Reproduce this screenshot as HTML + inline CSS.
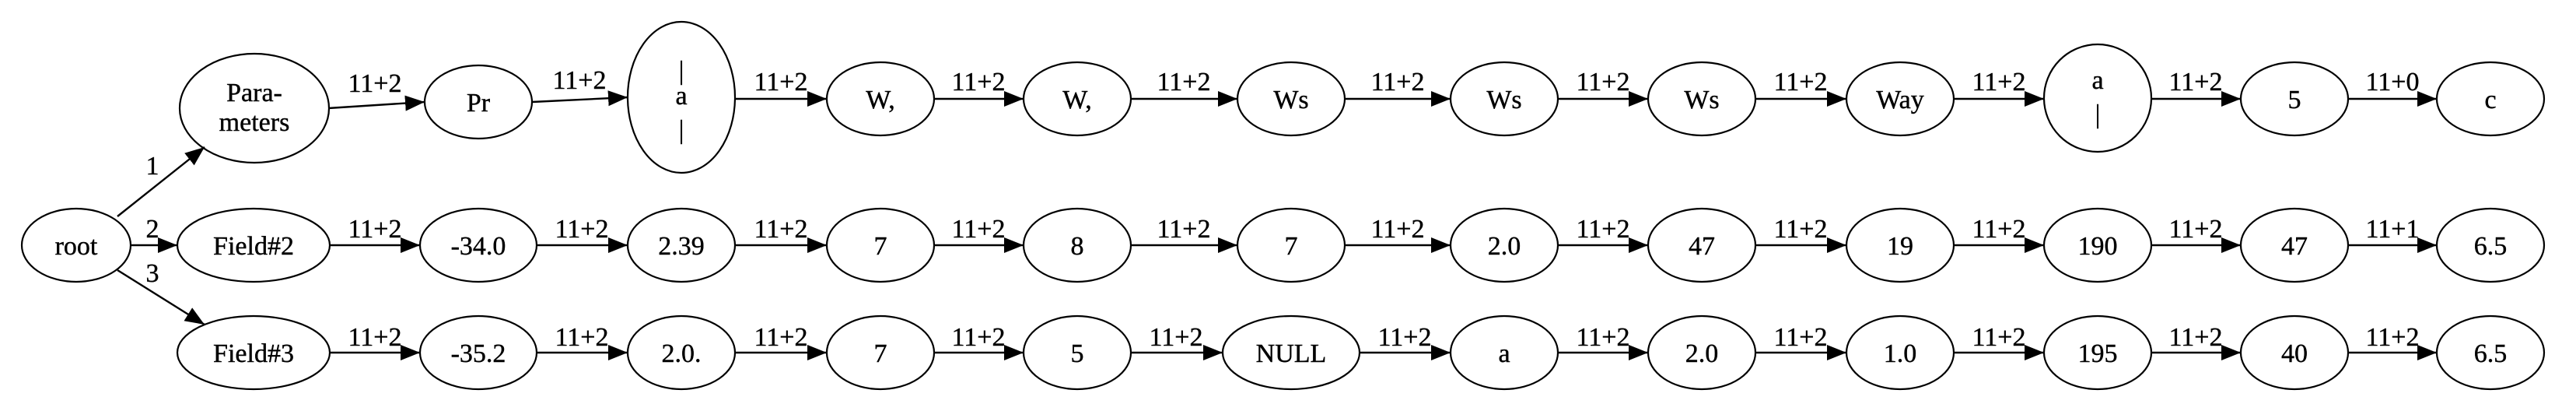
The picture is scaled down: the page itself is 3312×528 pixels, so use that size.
<!DOCTYPE html>
<html><head><meta charset="utf-8"><style>
html,body{margin:0;padding:0;background:#fff;}
svg{display:block;}
svg text{font-family:"Liberation Serif","Times New Roman","DejaVu Serif",serif;font-size:34px;fill:#000;text-anchor:middle;stroke:#000;stroke-width:0.4;}
ellipse{fill:none;stroke:#000;stroke-width:2.2;}
line{stroke:#000;stroke-width:2.4;}
</style></head><body>
<svg width="3312" height="528" viewBox="0 0 3312 528" xmlns="http://www.w3.org/2000/svg" font-family="Liberation Serif, serif">
<defs>
<marker id="a" markerUnits="userSpaceOnUse" markerWidth="26" markerHeight="22" refX="25" refY="10" orient="auto">
<path d="M0,0 L25,10 L0,20 Z" fill="#000"/>
</marker>
</defs>
<ellipse cx="98" cy="315" rx="70" ry="47"/><text x="98" y="327">root</text>
<line x1="151" y1="278" x2="263" y2="189" marker-end="url(#a)"/><text x="196" y="224">1</text>
<line x1="168" y1="315" x2="228" y2="315" marker-end="url(#a)"/><text x="196" y="305">2</text>
<line x1="151" y1="347" x2="263" y2="417" marker-end="url(#a)"/><text x="196" y="362">3</text>

<ellipse cx="327" cy="139" rx="96" ry="70"/><text x="327" y="130">Para-</text><text x="327" y="168">meters</text>
<ellipse cx="615" cy="131" rx="69" ry="47"/><text x="615" y="143">Pr</text>
<ellipse cx="876" cy="125" rx="69" ry="97"/><text x="876" y="102">|</text><text x="876" y="134">a</text><text x="876" y="178">|</text>
<ellipse cx="1132" cy="127" rx="69" ry="47"/><text x="1132" y="139">W,</text>
<ellipse cx="1385" cy="127" rx="69" ry="47"/><text x="1385" y="139">W,</text>
<ellipse cx="1660" cy="127" rx="69" ry="47"/><text x="1660" y="139">Ws</text>
<ellipse cx="1934" cy="127" rx="69" ry="47"/><text x="1934" y="139">Ws</text>
<ellipse cx="2188" cy="127" rx="69" ry="47"/><text x="2188" y="139">Ws</text>
<ellipse cx="2443" cy="127" rx="69" ry="47"/><text x="2443" y="139">Way</text>
<ellipse cx="2697" cy="126" rx="69" ry="69"/><text x="2697" y="114">a</text><text x="2697" y="158">|</text>
<ellipse cx="2950" cy="127" rx="69" ry="47"/><text x="2950" y="139">5</text>
<ellipse cx="3202" cy="127" rx="69" ry="47"/><text x="3202" y="139">c</text>

<line x1="422" y1="139" x2="546" y2="131" marker-end="url(#a)"/><text x="482" y="118">11+2</text>
<line x1="684" y1="131" x2="807" y2="125" marker-end="url(#a)"/><text x="745" y="114">11+2</text>
<line x1="945" y1="127" x2="1063" y2="127" marker-end="url(#a)"/><text x="1004" y="116">11+2</text>
<line x1="1201" y1="127" x2="1316" y2="127" marker-end="url(#a)"/><text x="1258" y="116">11+2</text>
<line x1="1454" y1="127" x2="1591" y2="127" marker-end="url(#a)"/><text x="1522" y="116">11+2</text>
<line x1="1729" y1="127" x2="1865" y2="127" marker-end="url(#a)"/><text x="1797" y="116">11+2</text>
<line x1="2003" y1="127" x2="2119" y2="127" marker-end="url(#a)"/><text x="2061" y="116">11+2</text>
<line x1="2257" y1="127" x2="2374" y2="127" marker-end="url(#a)"/><text x="2315" y="116">11+2</text>
<line x1="2512" y1="127" x2="2628" y2="127" marker-end="url(#a)"/><text x="2570" y="116">11+2</text>
<line x1="2766" y1="127" x2="2881" y2="127" marker-end="url(#a)"/><text x="2823" y="116">11+2</text>
<line x1="3019" y1="127" x2="3133" y2="127" marker-end="url(#a)"/><text x="3076" y="116">11+0</text>

<ellipse cx="326" cy="315" rx="98" ry="47"/><text x="326" y="327">Field#2</text>
<ellipse cx="615" cy="315" rx="75" ry="47"/><text x="615" y="327">-34.0</text>
<ellipse cx="876" cy="315" rx="69" ry="47"/><text x="876" y="327">2.39</text>
<ellipse cx="1132" cy="315" rx="69" ry="47"/><text x="1132" y="327">7</text>
<ellipse cx="1385" cy="315" rx="69" ry="47"/><text x="1385" y="327">8</text>
<ellipse cx="1660" cy="315" rx="69" ry="47"/><text x="1660" y="327">7</text>
<ellipse cx="1934" cy="315" rx="69" ry="47"/><text x="1934" y="327">2.0</text>
<ellipse cx="2188" cy="315" rx="69" ry="47"/><text x="2188" y="327">47</text>
<ellipse cx="2443" cy="315" rx="69" ry="47"/><text x="2443" y="327">19</text>
<ellipse cx="2697" cy="315" rx="69" ry="47"/><text x="2697" y="327">190</text>
<ellipse cx="2950" cy="315" rx="69" ry="47"/><text x="2950" y="327">47</text>
<ellipse cx="3202" cy="315" rx="69" ry="47"/><text x="3202" y="327">6.5</text>

<line x1="424" y1="315" x2="540" y2="315" marker-end="url(#a)"/><text x="482" y="305">11+2</text>
<line x1="690" y1="315" x2="807" y2="315" marker-end="url(#a)"/><text x="748" y="305">11+2</text>
<line x1="945" y1="315" x2="1063" y2="315" marker-end="url(#a)"/><text x="1004" y="305">11+2</text>
<line x1="1201" y1="315" x2="1316" y2="315" marker-end="url(#a)"/><text x="1258" y="305">11+2</text>
<line x1="1454" y1="315" x2="1591" y2="315" marker-end="url(#a)"/><text x="1522" y="305">11+2</text>
<line x1="1729" y1="315" x2="1865" y2="315" marker-end="url(#a)"/><text x="1797" y="305">11+2</text>
<line x1="2003" y1="315" x2="2119" y2="315" marker-end="url(#a)"/><text x="2061" y="305">11+2</text>
<line x1="2257" y1="315" x2="2374" y2="315" marker-end="url(#a)"/><text x="2315" y="305">11+2</text>
<line x1="2512" y1="315" x2="2628" y2="315" marker-end="url(#a)"/><text x="2570" y="305">11+2</text>
<line x1="2766" y1="315" x2="2881" y2="315" marker-end="url(#a)"/><text x="2823" y="305">11+2</text>
<line x1="3019" y1="315" x2="3133" y2="315" marker-end="url(#a)"/><text x="3076" y="305">11+1</text>

<ellipse cx="326" cy="453" rx="98" ry="47"/><text x="326" y="465">Field#3</text>
<ellipse cx="615" cy="453" rx="75" ry="47"/><text x="615" y="465">-35.2</text>
<ellipse cx="876" cy="453" rx="69" ry="47"/><text x="876" y="465">2.0.</text>
<ellipse cx="1132" cy="453" rx="69" ry="47"/><text x="1132" y="465">7</text>
<ellipse cx="1385" cy="453" rx="69" ry="47"/><text x="1385" y="465">5</text>
<ellipse cx="1660" cy="453" rx="88" ry="47"/><text x="1660" y="465">NULL</text>
<ellipse cx="1934" cy="453" rx="69" ry="47"/><text x="1934" y="465">a</text>
<ellipse cx="2188" cy="453" rx="69" ry="47"/><text x="2188" y="465">2.0</text>
<ellipse cx="2443" cy="453" rx="69" ry="47"/><text x="2443" y="465">1.0</text>
<ellipse cx="2697" cy="453" rx="69" ry="47"/><text x="2697" y="465">195</text>
<ellipse cx="2950" cy="453" rx="69" ry="47"/><text x="2950" y="465">40</text>
<ellipse cx="3202" cy="453" rx="69" ry="47"/><text x="3202" y="465">6.5</text>

<line x1="424" y1="453" x2="540" y2="453" marker-end="url(#a)"/><text x="482" y="444">11+2</text>
<line x1="690" y1="453" x2="807" y2="453" marker-end="url(#a)"/><text x="748" y="444">11+2</text>
<line x1="945" y1="453" x2="1063" y2="453" marker-end="url(#a)"/><text x="1004" y="444">11+2</text>
<line x1="1201" y1="453" x2="1316" y2="453" marker-end="url(#a)"/><text x="1258" y="444">11+2</text>
<line x1="1454" y1="453" x2="1572" y2="453" marker-end="url(#a)"/><text x="1512" y="444">11+2</text>
<line x1="1748" y1="453" x2="1865" y2="453" marker-end="url(#a)"/><text x="1806" y="444">11+2</text>
<line x1="2003" y1="453" x2="2119" y2="453" marker-end="url(#a)"/><text x="2061" y="444">11+2</text>
<line x1="2257" y1="453" x2="2374" y2="453" marker-end="url(#a)"/><text x="2315" y="444">11+2</text>
<line x1="2512" y1="453" x2="2628" y2="453" marker-end="url(#a)"/><text x="2570" y="444">11+2</text>
<line x1="2766" y1="453" x2="2881" y2="453" marker-end="url(#a)"/><text x="2823" y="444">11+2</text>
<line x1="3019" y1="453" x2="3133" y2="453" marker-end="url(#a)"/><text x="3076" y="444">11+2</text>
</svg>
</body></html>
